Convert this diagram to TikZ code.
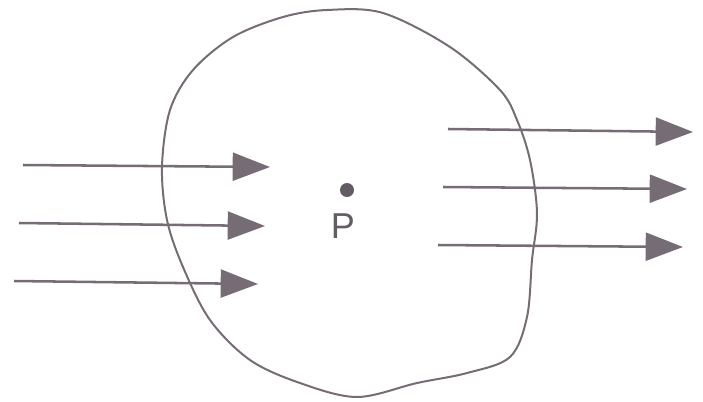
\documentclass[tikz,border=0pt]{standalone}
\usepackage{fontspec}
\setsansfont{Liberation Sans}
\usetikzlibrary{arrows.meta}
\definecolor{inkgray}{RGB}{118,108,118}
\tikzset{every picture/.style={line width=0.75pt}}
\tikzset{
flux/.style={draw=inkgray, line width=1.9pt, -{Triangle[length=28pt, width=21pt]}},
outline/.style={draw=inkgray, line width=1.5pt}}

\begin{document}
\begin{tikzpicture}[x=0.75pt,y=0.75pt,yscale=-1,xscale=1]
\useasboundingbox (0,0) rectangle (703,401);

%Shape: Closed Curve [id:surface]
\draw [outline] plot [smooth cycle, tension=0.55] coordinates {
(327,10) (383,13) (450,47) (500,90) (517,120) (530,160) (537,213)
(532,260) (527,317) (510,357) (467,373) (417,383) (357,397)
(300,383) (250,360) (210,320) (183,267) (167,220) (162,167)
(170,110) (193,70) (233,37) (283,17)};

%Incoming lines
\coordinate (inA) at (23,165); \coordinate (inAend) at (270,167);
\coordinate (inB) at (19,223); \coordinate (inBend) at (265,226);
\coordinate (inC) at (14,281); \coordinate (inCend) at (258,284);
\draw [flux] (inA) -- (inAend);
\draw [flux] (inB) -- (inBend);
\draw [flux] (inC) -- (inCend);

%Outgoing lines
\coordinate (outA) at (448,129); \coordinate (outAend) at (693,132);
\coordinate (outB) at (443,187); \coordinate (outBend) at (687,189);
\coordinate (outC) at (438,245); \coordinate (outCend) at (683,247);
\draw [flux] (outA) -- (outAend);
\draw [flux] (outB) -- (outBend);
\draw [flux] (outC) -- (outCend);

%Shape: Circle [id:point]
\fill [inkgray!85!black] (347,190) circle [radius=7] coordinate (P);

% Text Node
\node (Plabel) [anchor=north, inner sep=0.75pt, font=\sffamily\fontsize{27}{29}\selectfont, text=inkgray!85!black] at (343,212) {P};

\end{tikzpicture}
\end{document}
